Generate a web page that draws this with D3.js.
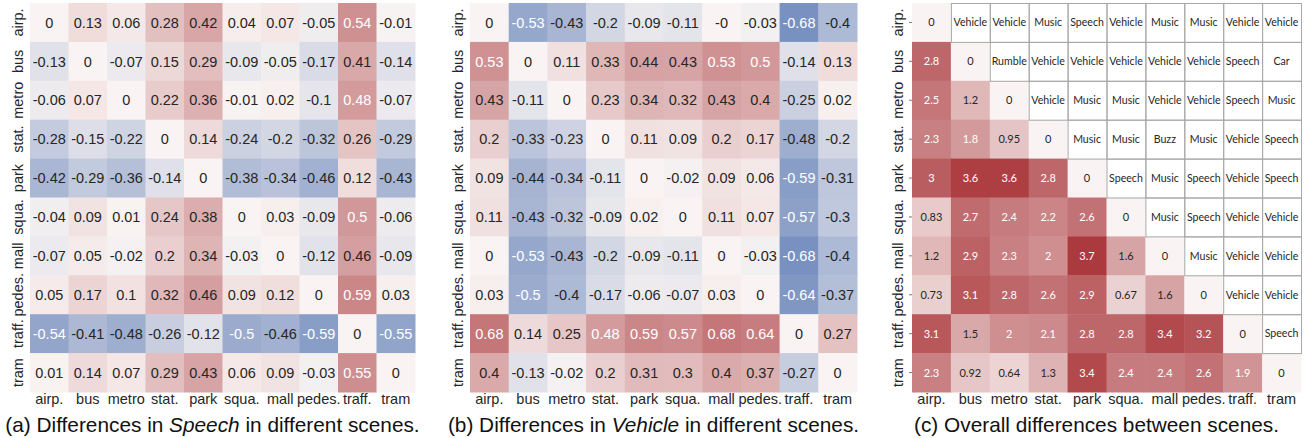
<!DOCTYPE html>
<html><head><meta charset="utf-8">
<script src="https://cdn.jsdelivr.net/npm/d3@7"></script>
<style>body{margin:0;background:#fff}</style>
</head><body><svg id="chart" width="1308" height="438"></svg>
<script>
const scenes = ["airp.","bus","metro","stat.","park","squa.","mall","pedes.","traff.","tram"];

const speechDiff = [
  [0, 0.13, 0.06, 0.28, 0.42, 0.04, 0.07, -0.05, 0.54, -0.01],
  [-0.13, 0, -0.07, 0.15, 0.29, -0.09, -0.05, -0.17, 0.41, -0.14],
  [-0.06, 0.07, 0, 0.22, 0.36, -0.01, 0.02, -0.1, 0.48, -0.07],
  [-0.28, -0.15, -0.22, 0, 0.14, -0.24, -0.2, -0.32, 0.26, -0.29],
  [-0.42, -0.29, -0.36, -0.14, 0, -0.38, -0.34, -0.46, 0.12, -0.43],
  [-0.04, 0.09, 0.01, 0.24, 0.38, 0, 0.03, -0.09, 0.5, -0.06],
  [-0.07, 0.05, -0.02, 0.2, 0.34, -0.03, 0, -0.12, 0.46, -0.09],
  [0.05, 0.17, 0.1, 0.32, 0.46, 0.09, 0.12, 0, 0.59, 0.03],
  [-0.54, -0.41, -0.48, -0.26, -0.12, -0.5, -0.46, -0.59, 0, -0.55],
  [0.01, 0.14, 0.07, 0.29, 0.43, 0.06, 0.09, -0.03, 0.55, 0]
];

const vehicleDiff = [
  [0, -0.53, -0.43, -0.2, -0.09, -0.11, -0, -0.03, -0.68, -0.4],
  [0.53, 0, 0.11, 0.33, 0.44, 0.43, 0.53, 0.5, -0.14, 0.13],
  [0.43, -0.11, 0, 0.23, 0.34, 0.32, 0.43, 0.4, -0.25, 0.02],
  [0.2, -0.33, -0.23, 0, 0.11, 0.09, 0.2, 0.17, -0.48, -0.2],
  [0.09, -0.44, -0.34, -0.11, 0, -0.02, 0.09, 0.06, -0.59, -0.31],
  [0.11, -0.43, -0.32, -0.09, 0.02, 0, 0.11, 0.07, -0.57, -0.3],
  [0, -0.53, -0.43, -0.2, -0.09, -0.11, 0, -0.03, -0.68, -0.4],
  [0.03, -0.5, -0.4, -0.17, -0.06, -0.07, 0.03, 0, -0.64, -0.37],
  [0.68, 0.14, 0.25, 0.48, 0.59, 0.57, 0.68, 0.64, 0, 0.27],
  [0.4, -0.13, -0.02, 0.2, 0.31, 0.3, 0.4, 0.37, -0.27, 0]
];

// lower triangle + diagonal: overall difference; upper triangle: most different class
const overallDiff = [
  [0, "Vehicle", "Vehicle", "Music", "Speech", "Vehicle", "Music", "Music", "Vehicle", "Vehicle"],
  [2.8, 0, "Rumble", "Vehicle", "Vehicle", "Vehicle", "Vehicle", "Vehicle", "Speech", "Car"],
  [2.5, 1.2, 0, "Vehicle", "Music", "Music", "Vehicle", "Vehicle", "Speech", "Music"],
  [2.3, 1.8, 0.95, 0, "Music", "Music", "Buzz", "Music", "Vehicle", "Speech"],
  [3, 3.6, 3.6, 2.8, 0, "Speech", "Music", "Speech", "Vehicle", "Speech"],
  [0.83, 2.7, 2.4, 2.2, 2.6, 0, "Music", "Speech", "Vehicle", "Vehicle"],
  [1.2, 2.9, 2.3, 2, 3.7, 1.6, 0, "Music", "Vehicle", "Vehicle"],
  [0.73, 3.1, 2.8, 2.6, 2.9, 0.67, 1.6, 0, "Vehicle", "Vehicle"],
  [3.1, 1.5, 2, 2.1, 2.8, 2.8, 3.4, 3.2, 0, "Speech"],
  [2.3, 0.92, 0.64, 1.3, 3.4, 2.4, 2.4, 2.6, 1.9, 0]
];

const captions = [
  ["(a) Differences in ", "Speech", " in different scenes."],
  ["(b) Differences in ", "Vehicle", " in different scenes."],
  ["(c) Overall differences between scenes.", "", ""]
];

const svg = d3.select("#chart");
const FONT = "'Liberation Sans', Arial, Helvetica, sans-serif";
const TOP = 3, BOTTOM = 392;

function luminance(c) {
  const r = d3.rgb(c);
  const lin = v => { v /= 255; return v <= 0.03928 ? v / 12.92 : Math.pow((v + 0.055) / 1.055, 2.4); };
  return 0.2126 * lin(r.r) + 0.7152 * lin(r.g) + 0.0722 * lin(r.b);
}
function fmt(v) { return Object.is(v, -0) ? "-0" : String(v); }

function drawPanel(matrix, opt) {
  const g = svg.append("g");
  const x = d3.scaleBand().domain(scenes).range([opt.left, opt.right]);
  const y = d3.scaleBand().domain(scenes).range([TOP, BOTTOM]);
  const color = d3.scaleLinear().domain([-opt.vmax, 0, opt.vmax])
    .range(["#3c62a8", "#f9f4f3", "#ab3a3e"]).interpolate(d3.interpolateRgb).clamp(true);

  const cells = [];
  matrix.forEach((row, i) => row.forEach((v, j) => cells.push({r: scenes[i], c: scenes[j], v})));

  const cg = g.selectAll("g.cell").data(cells).join("g").attr("class", "cell");
  cg.append("rect")
    .attr("x", d => x(d.c)).attr("y", d => y(d.r))
    .attr("width", x.bandwidth() + 0.5).attr("height", y.bandwidth() + 0.5)
    .attr("fill", d => typeof d.v === "number" ? color(d.v) : "#ffffff");
  cg.append("text")
    .attr("x", d => x(d.c) + x.bandwidth() / 2)
    .attr("y", d => y(d.r) + y.bandwidth() / 2)
    .attr("dy", "0.36em")
    .attr("text-anchor", "middle")
    .attr("font-family", d => typeof d.v === "number" ? opt.cellFont : opt.labelFont)
    .attr("font-size", d => typeof d.v === "number" ? opt.cellSize : opt.labelSize)
    .attr("fill", d => typeof d.v !== "number" ? "#262626" : (luminance(color(d.v)) > 0.408 ? "#262626" : "#ffffff"))
    .text(d => typeof d.v === "number" ? fmt(d.v) : d.v);

  // grid lines around the text cells (upper triangle)
  g.selectAll("rect.grid").data(cells.filter(d => typeof d.v !== "number")).join("rect")
    .attr("class", "grid")
    .attr("x", d => x(d.c) + 0.5).attr("y", d => y(d.r) + 0.5)
    .attr("width", x.bandwidth()).attr("height", y.bandwidth())
    .attr("fill", "none").attr("stroke", "#a8a8a8").attr("stroke-width", 1);

  const xa = g.append("g").attr("transform", `translate(0,${BOTTOM})`)
    .call(d3.axisBottom(x).tickSize(0).tickPadding(2));
  xa.select(".domain").remove();
  xa.selectAll("text").attr("font-family", FONT).attr("font-size", 14.5).attr("fill", "#262626");

  const ya = g.append("g").attr("transform", `translate(${opt.left},0)`)
    .call(d3.axisLeft(y).tickSize(opt.ticks ? 3 : 0));
  ya.select(".domain").remove();
  ya.selectAll("line").attr("stroke", "#777");
  ya.selectAll("text")
    .attr("x", null).attr("dy", null)
    .attr("text-anchor", "middle")
    .attr("transform", `translate(${-opt.labelOffset},0) rotate(-90)`)
    .attr("font-family", FONT).attr("font-size", 14.5).attr("fill", "#262626");

  const cap = g.append("text")
    .attr("x", (opt.left + opt.right) / 2 - 10).attr("y", 432)
    .attr("text-anchor", "middle")
    .attr("font-family", FONT).attr("font-size", 20.8).attr("fill", "#111");
  cap.append("tspan").text(opt.caption[0]);
  if (opt.caption[1]) cap.append("tspan").attr("font-style", "italic").text(opt.caption[1]);
  if (opt.caption[2]) cap.append("tspan").text(opt.caption[2]);
}

drawPanel(speechDiff, {left: 30, right: 415, vmax: 1, cellFont: FONT, cellSize: 14.5, labelOffset: 7, ticks: false, caption: captions[0]});
drawPanel(vehicleDiff, {left: 470, right: 857, vmax: 1, cellFont: FONT, cellSize: 14.5, labelOffset: 7, ticks: false, caption: captions[1]});
drawPanel(overallDiff, {left: 912, right: 1301, vmax: 3.7, cellFont: "Lato, 'Open Sans', sans-serif", cellSize: 11, labelFont: "Lato, 'Open Sans', sans-serif", labelSize: 10.6, labelOffset: 9, ticks: true, caption: captions[2]});
</script>
</body></html>
